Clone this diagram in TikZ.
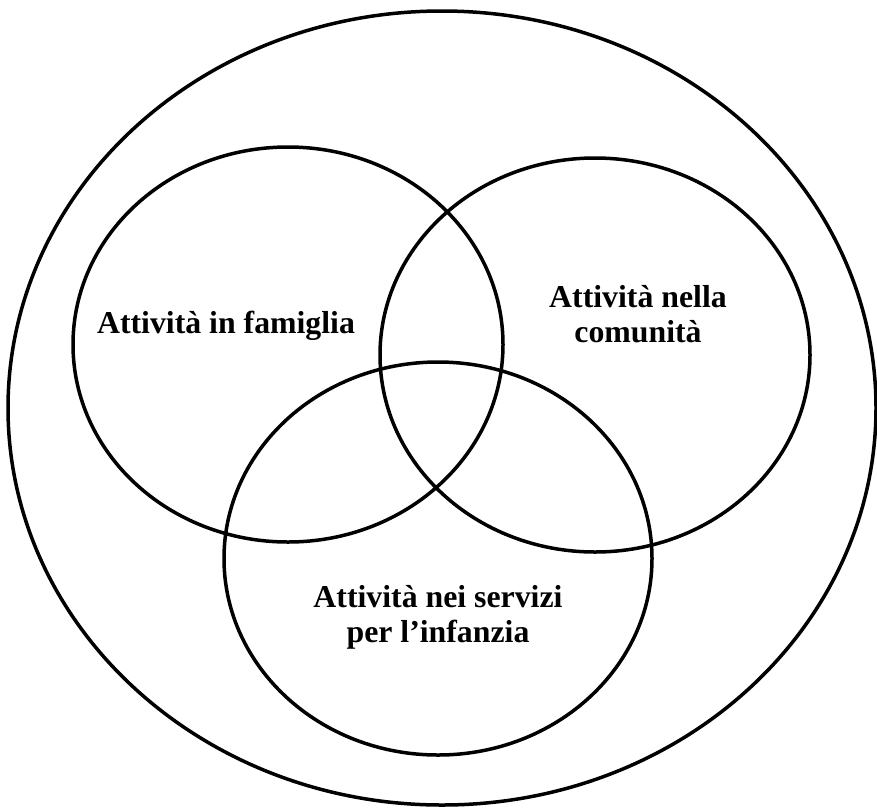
\documentclass[tikz,border=0pt]{standalone}
\usepackage{fontspec}
\setmainfont{Liberation Serif}
\usetikzlibrary{shapes.geometric}
\tikzset{
  ring/.style={draw, ellipse, line width=3.5pt, inner sep=0pt, outer sep=0pt},
  lbl/.style={font=\fontsize{31.8}{34.5}\selectfont\bfseries, align=center, inner sep=0pt, anchor=base}
}
\begin{document}
\begin{tikzpicture}[x=1pt,y=-1pt]
\useasboundingbox (0,0) rectangle (877,807);
\node[ring, minimum width=868pt, minimum height=794pt] (outer) at (442,408) {};
\node[ring, minimum width=430pt, minimum height=395pt] (fam) at (288,344.5) {};
\node[ring, minimum width=430pt, minimum height=394pt] (com) at (595,355) {};
\node[ring, minimum width=428pt, minimum height=393pt] (serv) at (438,558.5) {};
\node[lbl] (tfam) at (226,333) {Attività in famiglia};
\node[lbl] (tcom) at (638,342) {Attività nella\\comunità};
\node[lbl] (tserv) at (438,642) {Attività nei servizi\\per l’infanzia};
\end{tikzpicture}
\end{document}
